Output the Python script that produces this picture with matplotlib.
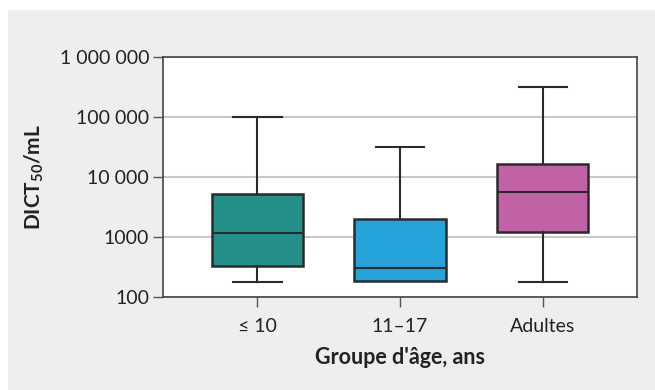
import matplotlib.pyplot as plt
from matplotlib.patches import Rectangle

plt.rcParams['font.family'] = ['Lato', 'DejaVu Sans']
plt.rcParams['mathtext.fontset'] = 'custom'
plt.rcParams['mathtext.rm'] = 'Lato'
plt.rcParams['mathtext.bf'] = 'Lato:bold'

# data (log scale)
groups = ['\u2264 10', '11\u201317', 'Adultes']
whislo = [178, 185, 178]
q1 = [329, 185, 1212]
med = [1166, 304, 5620]
q3 = [5210, 1995, 16500]
whishi = [100000, 31600, 316000]
colors = ['#23918a', '#27a3dc', '#c062a5']

stats = []
for i in range(len(groups)):
    stats.append({'label': groups[i], 'whislo': whislo[i], 'q1': q1[i],
                  'med': med[i], 'q3': q3[i], 'whishi': whishi[i],
                  'fliers': []})

fig = plt.figure(figsize=(6.55, 3.9), dpi=100)
fig.patch.set_facecolor('white')
fig.patches.append(Rectangle((8 / 655, 0), 1, 380 / 390, transform=fig.transFigure,
                             facecolor='#eeeeee', edgecolor='none', zorder=-10))

ax = fig.add_axes([163 / 655, 1 - 297 / 390, 474 / 655, 240 / 390])
ax.set_facecolor('white')

line = dict(color='#2b2b2b', linewidth=1.5)
bp = ax.bxp(stats, positions=range(len(groups)), widths=0.64, patch_artist=True,
            showfliers=False, boxprops=dict(edgecolor='#2b2b2b', linewidth=1.8),
            medianprops=line, whiskerprops=line, capprops=line, capwidths=0.34)
for patch, c in zip(bp['boxes'], colors):
    patch.set_facecolor(c)
# no visible lower whisker for 11-17 (minimum = first quartile)
bp['caps'][2].set_visible(False)

ax.set_yscale('log')
ax.set_ylim(100, 1000000)
ax.set_xlim(-0.66, 2.66)
yt = [100, 1000, 10000, 100000, 1000000]
ax.set_yticks(yt)
ax.set_yticklabels(['100', '1000', '10 000', '100 000', '1 000 000'])
ax.minorticks_off()
ax.yaxis.grid(True, color='#c8c8c8', linewidth=1.5)
ax.set_axisbelow(True)
ax.set_xticks(range(len(groups)))
ax.set_xticklabels(groups)

ax.tick_params(axis='both', colors='#555555', labelcolor='#222222', labelsize=14,
               length=7, width=1)
ax.tick_params(axis='x', pad=8)
ax.tick_params(axis='y', pad=3)
for s in ax.spines.values():
    s.set_color('#444444')
    s.set_linewidth(1.2)

ax.set_ylabel(r'DICT$_{\mathbf{50}}$/mL', fontsize=15, fontweight='bold',
              color='#222222', labelpad=10)
ax.set_xlabel("Groupe d'\u00e2ge, ans", fontsize=15.5, fontweight='bold',
              color='#222222', labelpad=9)

fig.savefig('out.png', dpi=100)
